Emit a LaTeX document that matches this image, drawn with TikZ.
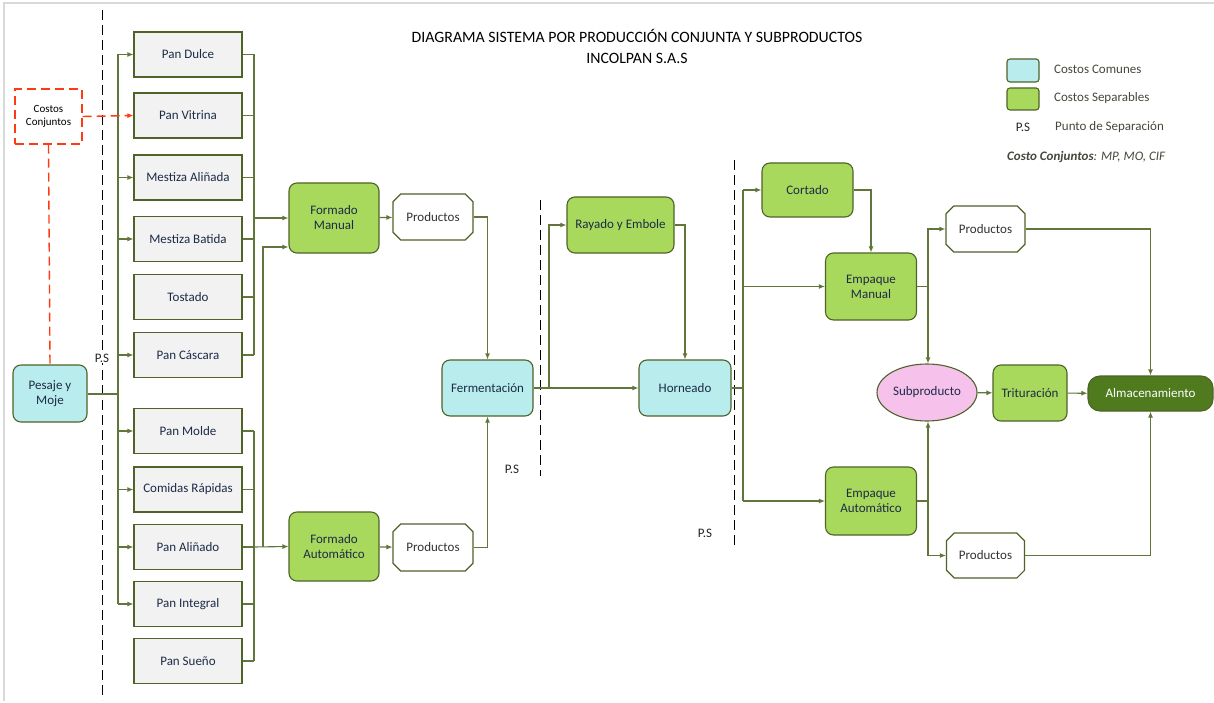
\documentclass[tikz,border=0pt]{standalone}
\usepackage{fontspec}
\setmainfont{Carlito}
\usetikzlibrary{arrows.meta,shapes.geometric,shapes.misc}

\definecolor{olivedge}{HTML}{4F6228}
\definecolor{connline}{HTML}{61763A}
\definecolor{boxgray}{HTML}{F2F2F2}
\definecolor{comun}{HTML}{B9ECEC}
\definecolor{separa}{HTML}{A8D95C}
\definecolor{subprod}{HTML}{F6C2EC}
\definecolor{almac}{HTML}{4F7A1D}
\definecolor{navytext}{HTML}{1D2B47}
\definecolor{costred}{HTML}{FF3A12}
\definecolor{legtext}{HTML}{44483A}

\tikzset{
  base/.style={draw=olivedge, line width=1.1pt, inner sep=0pt, align=center,
               text=navytext, font=\fontsize{13}{15}\selectfont},
  panbox/.style={base, rectangle, fill=boxgray, minimum width=108pt, minimum height=45pt},
  comunbox/.style={base, rectangle, rounded corners=8pt, fill=comun},
  sepbox/.style={base, rectangle, rounded corners=8pt, fill=separa},
  prodbox/.style={base, chamfered rectangle, chamfered rectangle xsep=8pt,
                  fill=white, text=black!80},
  conn/.style={draw=connline, line width=1.1pt},
  arr/.style={conn, -{Latex[length=6pt,width=5pt]}},
  costline/.style={draw=costred, line width=1.4pt, dash pattern=on 9pt off 5pt},
  psline/.style={draw=black, line width=0.9pt, dash pattern=on 10pt off 5pt},
  pslabel/.style={fill=white, inner sep=1pt, text=black!85, font=\fontsize{13}{14}\selectfont},
  legtxt/.style={anchor=west, inner sep=0pt, text=legtext, font=\fontsize{13}{14}\selectfont},
}

\begin{document}
\begin{tikzpicture}[x=1pt, y=-1pt]
\useasboundingbox (0,0) rectangle (1214,703);

% frame lines of the sheet
\draw[black!15, line width=2pt] (4,701) -- (4,3) -- (1214,3);

% separation points (dashed lines)
\coordinate (ps1a) at (102,10);
\coordinate (ps1b) at (102,700);
\coordinate (ps2a) at (540,200);
\coordinate (ps2b) at (540,476);
\coordinate (ps3a) at (734,160);
\coordinate (ps3b) at (734,546);
\draw[psline] (ps1a) -- (ps1b);
\draw[psline] (ps2a) -- (ps2b);
\draw[psline] (ps3a) -- (ps3b);

% title
\node (title) at (637,46.5) [align=center, inner sep=0pt, font=\fontsize{15.8}{21}\selectfont]
  {DIAGRAMA SISTEMA POR PRODUCCIÓN CONJUNTA Y SUBPRODUCTOS\\INCOLPAN S.A.S};

% legend
\node (legc) at (1023,70.5) [base, rectangle, rounded corners=3pt, fill=comun,
  minimum width=32pt, minimum height=23pt] {};
\node (legs) at (1023,99) [base, rectangle, rounded corners=3pt, fill=separa,
  minimum width=32pt, minimum height=22pt] {};
\node (legct) at (1054,69) [legtxt] {Costos Comunes};
\node (legst) at (1054,98) [legtxt] {Costos Separables};
\node (legp) at (1023,127) [inner sep=0pt, text=black!85, font=\fontsize{13}{14}\selectfont] {P.S};
\node (legpt) at (1055,127) [legtxt] {Punto de Separación};
\node (legcc) at (1007,157) [legtxt] {\textbf{\textit{Costo Conjuntos}}\textit{: MP, MO, CIF}};

% start and joint costs
\node (pesaje) at (50,393.5) [comunbox, minimum width=74pt, minimum height=57pt] {Pesaje y\\Moje};
\node (costos) at (48.5,116.5) [costline,
  minimum width=67pt, minimum height=55pt, inner sep=0pt, align=center,
  font=\fontsize{11}{13}\selectfont] {Costos\\Conjuntos};

% product lines
\node (dulce)    at (188,54.5)  [panbox] {Pan Dulce};
\node (vitrina)  at (188,115.5) [panbox] {Pan Vitrina};
\node (mestali)  at (188,177.5) [panbox] {Mestiza Aliñada};
\node (mestbat)  at (188,239)   [panbox] {Mestiza Batida};
\node (tostado)  at (188,297)   [panbox] {Tostado};
\node (cascara)  at (188,355)   [panbox] {Pan Cáscara};
\node (molde)    at (188,431)   [panbox] {Pan Molde};
\node (comidas)  at (188,489.5) [panbox] {Comidas Rápidas};
\node (alinado)  at (188,547)   [panbox] {Pan Aliñado};
\node (integral) at (188,604)   [panbox] {Pan Integral};
\node (sueno)    at (188,661)   [panbox] {Pan Sueño};

% shaping
\node (fman) at (334,218)   [sepbox, minimum width=90pt, minimum height=70pt] {Formado\\Manual};
\node (faut) at (334,546.5) [sepbox, minimum width=90pt, minimum height=69pt] {Formado\\Automático};
\node (produ) at (433,217)  [prodbox, minimum width=80pt, minimum height=46pt] {Productos};
\node (prodl) at (433,547.5)[prodbox, minimum width=80pt, minimum height=47pt] {Productos};

% fermentation and baking
\node (ferm)   at (487.5,388) [comunbox, minimum width=91pt, minimum height=56pt] {Fermentación};
\node (rayado) at (620.5,225) [sepbox, minimum width=107pt, minimum height=56pt] {Rayado y Embole};
\node (horn)   at (685,388)   [comunbox, minimum width=92pt, minimum height=56pt] {Horneado};

% finishing
\node (cortado) at (807.5,190)  [sepbox, minimum width=91pt, minimum height=54pt] {Cortado};
\node (emanual) at (871,286.5)  [sepbox, minimum width=91pt, minimum height=67pt] {Empaque\\Manual};
\node (eauto)   at (871,501)    [sepbox, minimum width=91pt, minimum height=68pt] {Empaque\\Automático};
\node (prodtr)  at (985.5,229)  [prodbox, minimum width=79pt, minimum height=46pt] {Productos};
\node (prodbr)  at (985.5,555.5)[prodbox, minimum width=78pt, minimum height=45pt] {Productos};
\node (subp)    at (927,392.5)  [base, ellipse, fill=subprod, minimum width=100pt, minimum height=57pt] {Subproducto};
\node (trit)    at (1030,393)   [sepbox, minimum width=74pt, minimum height=56pt] {Trituración};
\node (alm)     at (1150.5,393.5) [base, rectangle, rounded corners=12pt, fill=almac, text=white,
  minimum width=125pt, minimum height=35pt] {Almacenamiento};

% P.S labels
\node (psl1) at (102,358) [pslabel] {P.S};
\node (psl2) at (512,469) [pslabel] {P.S};
\node (psl3) at (705,533) [pslabel] {P.S};

% distribution from Pesaje y Moje
\coordinate (busL) at (118,394);
\draw[conn] (pesaje.east |- busL) -- (busL);
\draw[conn] (busL |- dulce.west) -- (busL |- integral.west);
\foreach \n in {dulce,mestali,mestbat,cascara,molde,comidas,alinado,integral}
  \draw[arr] (busL |- \n.west) -- (\n.west);

% joint costs
\draw[costline, -{Latex[length=6pt,width=5pt]}] (costos.east) -- (vitrina.west);
\draw[costline] (costos.south) -- (pesaje.north);

% collection into shaping
\coordinate (busU) at (254,218);
\foreach \n in {dulce,vitrina,mestali,mestbat,tostado,cascara}
  \draw[conn] (\n.east) -- (busU |- \n.east);
\draw[conn] (busU |- dulce.east) -- (busU |- cascara.east);
\draw[arr] (busU) -- (fman.west);

\coordinate (busD) at (254,547);
\foreach \n in {molde,comidas,alinado,integral,sueno}
  \draw[conn] (\n.east) -- (busD |- \n.east);
\draw[conn] (busD |- molde.east) -- (busD |- sueno.east);
\draw[arr] (busD) -- (faut.west);
\coordinate (upD) at (263,547);
\coordinate (upM) at (263,247);
\draw[arr] (upD) -- (upM) -- (fman.west |- upM);

\draw[arr] (fman) -- (produ);
\draw[arr] (faut) -- (prodl);
\draw[arr] (produ.east) -| (ferm.north);
\draw[arr] (prodl.east) -| (ferm.south);

% fermentation to baking
\coordinate (jF) at (549,388);
\draw[arr] (ferm.east) -- (horn.west);
\draw[arr] (jF) |- (rayado.west);
\draw[arr] (rayado.east) -| (horn.north);

% baking to packaging
\coordinate (busR) at (743,388);
\draw[conn] (horn.east) -- (busR);
\draw[conn] (busR |- cortado.west) -- (busR |- eauto.west);
\draw[arr] (busR |- cortado.west) -- (cortado.west);
\draw[arr] (busR |- emanual.west) -- (emanual.west);
\draw[arr] (busR |- eauto.west) -- (eauto.west);
\draw[arr] (cortado.east) -| (emanual.north);

% packaging outputs
\coordinate (jM) at (928,286.5);
\coordinate (jA) at (928,501);
\draw[conn] (emanual.east) -- (jM);
\draw[arr] (jM) |- (prodtr.west);
\draw[arr] (jM) -- (jM |- subp.north);
\draw[conn] (eauto.east) -- (jA);
\draw[arr] (jA) -- (jA |- subp.south);
\draw[arr] (jA) |- (prodbr.west);

\draw[arr] (subp) -- (trit);
\draw[arr] (trit) -- (alm);
\draw[arr] (prodtr.east) -| (alm.north);
\draw[arr] (prodbr.east) -| (alm.south);
\end{tikzpicture}
\end{document}
